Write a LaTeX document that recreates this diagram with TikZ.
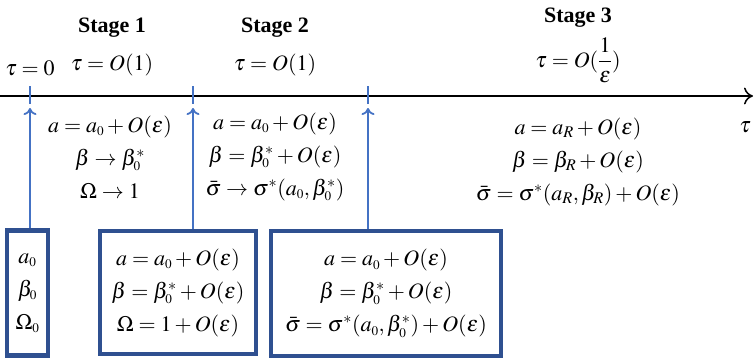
\documentclass[tikz,border=0pt]{standalone}
\usepackage{mathptmx}
\usepackage{fontspec}
\setmainfont{Liberation Serif}
\usetikzlibrary{arrows.meta}
\definecolor{boxblue}{HTML}{2F5090}
\definecolor{arrblue}{HTML}{4472C4}
\begin{document}
\begin{tikzpicture}[x=1pt,y=-1pt,
  txt/.style={inner sep=0pt,align=center,font=\fontsize{22}{33}\selectfont},
  hdr/.style={inner sep=0pt,font=\fontsize{22}{24}\selectfont\bfseries},
  valbox/.style={draw=boxblue,line width=4.5pt,inner sep=0pt,align=center,
    font=\fontsize{22}{33}\selectfont},
  tick/.style={draw=arrblue,line width=1.5pt},
  uparrow/.style={draw=arrblue,line width=1.8pt,-{To[length=7pt,width=13pt]}}]
\useasboundingbox (0,0) rectangle (754,359);
% axis
\coordinate (axL) at (0,96);
\coordinate (axR) at (753,96);
\draw[line width=2.4pt,-{To[length=9pt,width=17pt,line width=1.5pt]}] (axL) -- (axR);
\node[txt] (tau) at (745,127) {$\tau$};
% ticks
\foreach \n/\x in {t1/30,t2/193,t3/368}{
  \coordinate (\n a) at (\x,86);
  \coordinate (\n b) at (\x,104);
  \coordinate (\n h) at (\x,108);
  \draw[tick] (\n a) -- (\n b);
}
% headers
\node[txt] (tau0) at (30,68) {$\tau=0$};
\node[hdr] (s1) at (112,28) {Stage 1};
\node[txt] (s1t) at (112,65) {$\tau=O(1)$};
\node[hdr] (s2) at (275,28) {Stage 2};
\node[txt] (s2t) at (275,65) {$\tau=O(1)$};
\node[hdr] (s3) at (578,18) {Stage 3};
\node[txt] (s3t) at (578,60) {$\tau=O(\displaystyle\frac{1}{\varepsilon})$};
% stage texts
\node[txt] (s1b) at (110,157) {$a=a_{\scriptscriptstyle 0}+O(\varepsilon)$\\ $\beta\rightarrow\beta_{\scriptscriptstyle 0}^{*}$\\ $\Omega\rightarrow 1$};
\node[txt] (s2b) at (275,157) {$a=a_{\scriptscriptstyle 0}+O(\varepsilon)$\\ $\beta=\beta_{\scriptscriptstyle 0}^{*}+O(\varepsilon)$\\ $\bar{\sigma}\rightarrow\sigma^{*}(a_{\scriptscriptstyle 0},\beta_{\scriptscriptstyle 0}^{*})$};
\node[txt] (s3b) at (578,162) {$a=a_{R}+O(\varepsilon)$\\ $\beta=\beta_{R}+O(\varepsilon)$\\ $\bar{\sigma}=\sigma^{*}(a_{R},\beta_{R})+O(\varepsilon)$};
% boxes
\node[valbox,minimum width=41pt,minimum height=125pt] (b1) at (27.5,293) {$a_{\scriptscriptstyle 0}$\\ $\beta_{\scriptscriptstyle 0}$\\ $\Omega_{\scriptscriptstyle 0}$};
\node[valbox,minimum width=156pt,minimum height=123pt] (b2) at (178,292.5) {$a=a_{\scriptscriptstyle 0}+O(\varepsilon)$\\ $\beta=\beta_{\scriptscriptstyle 0}^{*}+O(\varepsilon)$\\ $\Omega=1+O(\varepsilon)$};
\node[valbox,minimum width=230pt,minimum height=125pt] (b3) at (386,293.5) {$a=a_{\scriptscriptstyle 0}+O(\varepsilon)$\\ $\beta=\beta_{\scriptscriptstyle 0}^{*}+O(\varepsilon)$\\ $\bar{\sigma}=\sigma^{*}(a_{\scriptscriptstyle 0},\beta_{\scriptscriptstyle 0}^{*})+O(\varepsilon)$};
% arrows
\draw[uparrow] (b1.north -| t1h) -- (t1h);
\draw[uparrow] (b2.north -| t2h) -- (t2h);
\draw[uparrow] (b3.north -| t3h) -- (t3h);
\end{tikzpicture}
\end{document}
